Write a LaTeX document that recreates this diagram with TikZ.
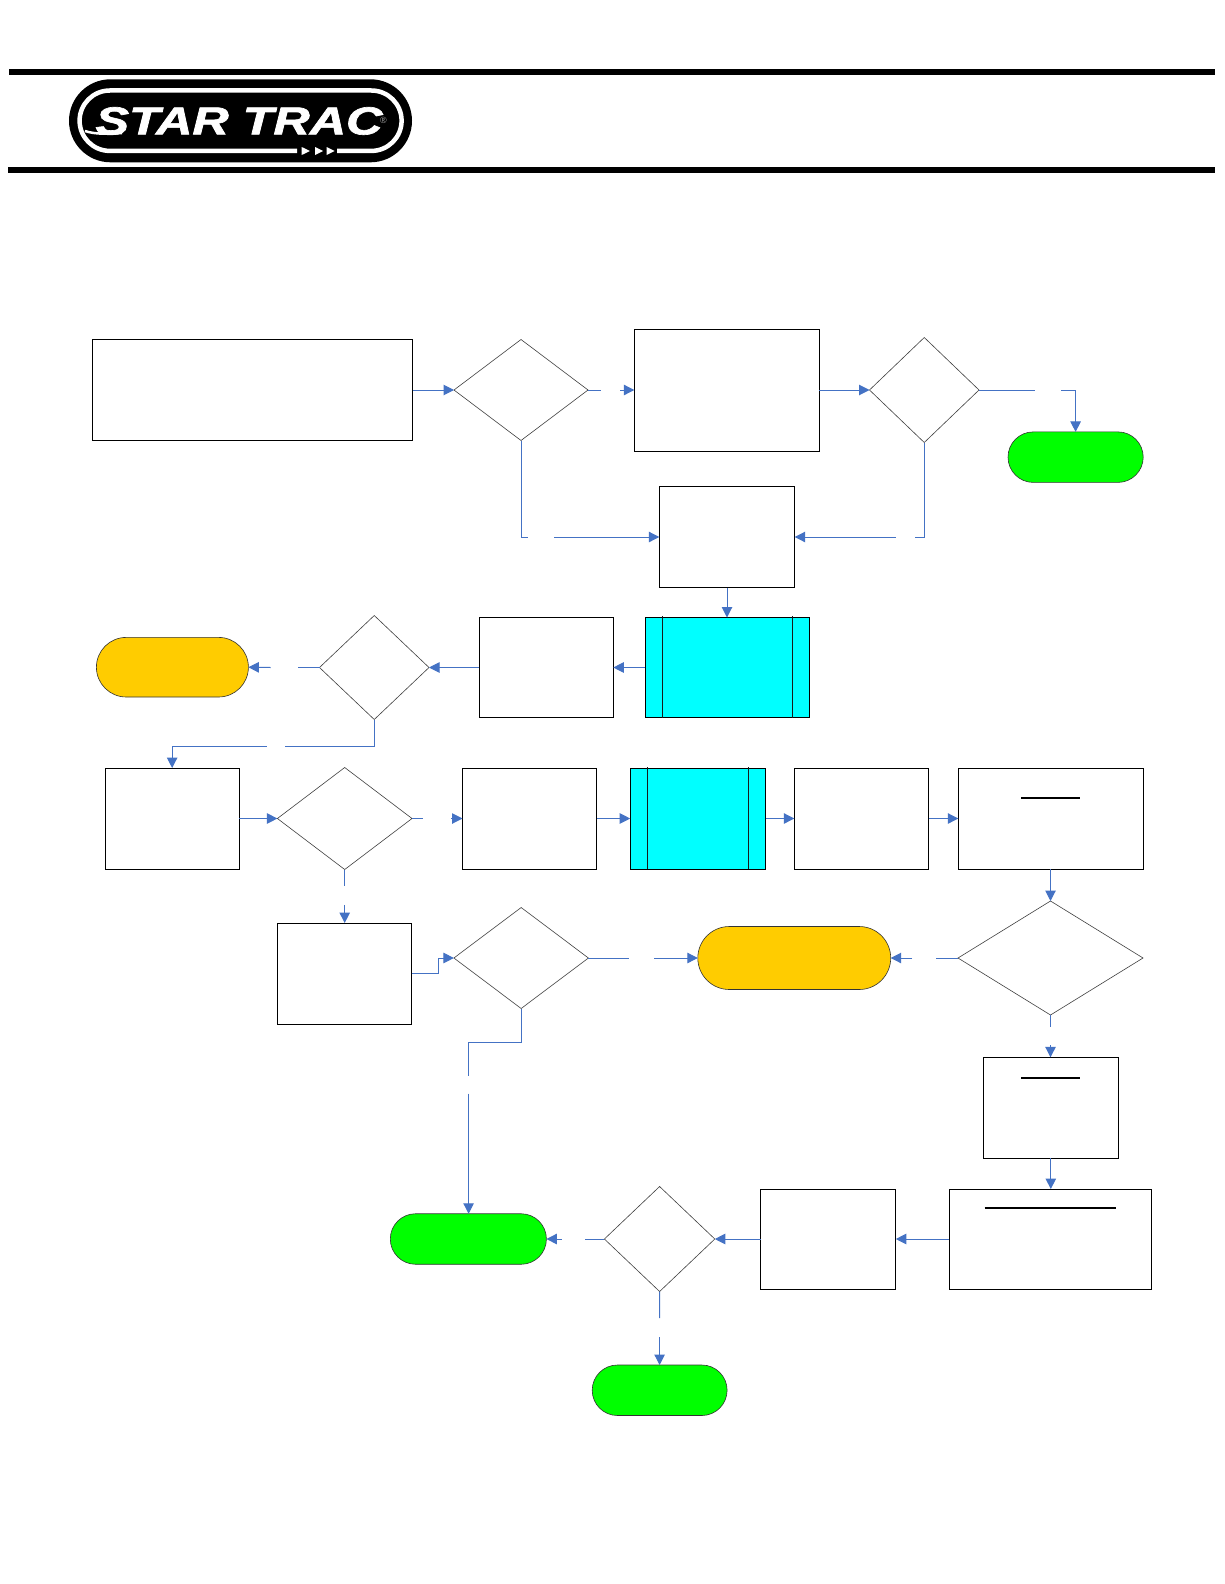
\documentclass[tikz,border=0pt]{standalone}
\usepackage{fontspec}
\setmainfont{Liberation Sans}
\newfontfamily\logofont[UprightFont=* Bold Italic,FakeBold=1.6]{Liberation Sans}
\usetikzlibrary{arrows.meta,shapes.geometric,shapes.misc}
\definecolor{connblue}{HTML}{4472C4}
\definecolor{termgreen}{HTML}{00FF00}
\definecolor{termorange}{HTML}{FFCC00}
\definecolor{subcyan}{HTML}{00FFFF}
\tikzset{
  x=1pt,y=-1pt,
  procbox/.style={rectangle,draw=black,line width=.9pt,fill=white,inner sep=0,outer sep=0},
  subbox/.style={procbox,fill=subcyan},
  decide/.style={diamond,draw=black!75,line width=.6pt,fill=white,inner sep=0,outer sep=0},
  termgo/.style={rounded rectangle,draw=black!80,line width=.6pt,fill=termgreen,inner sep=0,outer sep=0},
  termwarn/.style={termgo,fill=termorange},
  conn/.style={draw=connblue,line width=1pt},
  arr/.style={conn,-{Triangle[length=10.5pt,width=10.5pt]}},
  headrule/.style={line width=2pt,draw=black},
  innerrule/.style={line width=.8pt,draw=black!90},
}
% name, x1, y1, x2, y2, style
\newcommand{\shp}[6]{\node[#6,minimum width={(#4-#2)*1pt},minimum height={(#5-#3)*1pt}] (#1) at ({(#2+#4)/2},{(#3+#5)/2}) {};}
\begin{document}
\begin{tikzpicture}
\useasboundingbox (0,0) rectangle (1224,1584);
\fill[white] (0,0) rectangle (1224,1584);
% header bars
\fill[black] (9,69) rectangle (1215,75.5);
\fill[black] (8,167) rectangle (1215,173);
% logo
\node[rounded rectangle,fill=black,minimum width=343pt,minimum height=83pt,inner sep=0] (logoback) at (240.5,120.8) {};
\draw[white,line width=4.5pt] (297,150.9) -- (109.8,150.9) arc[start angle=90,end angle=270,radius=30.2] -- (371.4,90.5) arc[start angle=-90,end angle=90,radius=30.2] -- (337,150.9);
\fill[white] (301.7,147) -- (310,151) -- (301.7,155) -- cycle;
\fill[white] (315,147) -- (323,151) -- (315,155) -- cycle;
\fill[white] (326.7,147) -- (334.5,151) -- (326.7,155) -- cycle;
\node[text=white,font=\logofont\fontsize{39pt}{39pt}\selectfont,xscale=1.29,inner sep=0] (logotext) at (239,121) {STAR TRAC};
\node[text=white!65!black,font=\fontsize{9pt}{9pt}\selectfont,inner sep=0] (logoreg) at (383.5,120.5) {®};
\draw[white,line width=2.5pt] (85,131) .. controls (95,134.5) and (110,134) .. (122,133);
% boxes
\shp{b1}{92}{339.5}{412.5}{440.5}{procbox}
\shp{d1}{454}{339.5}{588}{440.5}{decide}
\shp{b2}{634.3}{329}{819.3}{451}{procbox}
\shp{d2}{869.5}{337.5}{979}{442.5}{decide}
\shp{t1}{1008}{431.9}{1143.2}{482.4}{termgo}
\shp{b3}{659.3}{486.5}{794.7}{587.5}{procbox}
\shp{c1}{645.3}{617.5}{809.3}{717.5}{subbox}
\shp{b4}{479.3}{617.5}{613.3}{717.5}{procbox}
\shp{d3}{319.5}{615.5}{429}{719.5}{decide}
\shp{t2}{96.4}{637.4}{248.4}{697}{termwarn}
\shp{b5}{105}{768}{239.3}{869}{procbox}
\shp{d4}{277.4}{767.5}{412}{869.5}{decide}
\shp{b6}{462.5}{768}{596.8}{869}{procbox}
\shp{c2}{630.2}{768}{765.5}{869}{subbox}
\shp{b7}{794.3}{768}{928.6}{869}{procbox}
\shp{b8}{958.3}{768}{1143.7}{869}{procbox}
\shp{d7}{958}{901}{1143}{1015}{decide}
\shp{t3}{697.8}{926.5}{890.7}{989.5}{termwarn}
\shp{b9}{277}{923}{411.6}{1024}{procbox}
\shp{d5}{453.9}{907.5}{588.4}{1008.5}{decide}
\shp{b10}{983.1}{1057.3}{1118.5}{1158.4}{procbox}
\shp{b11}{949.3}{1189}{1151.3}{1289}{procbox}
\shp{b12}{760.5}{1189}{895.8}{1289}{procbox}
\shp{d6}{604.4}{1186.5}{714.8}{1291.5}{decide}
\shp{t4}{390.3}{1213.75}{546.4}{1264.25}{termgo}
\shp{t5}{592.2}{1365}{727.1}{1415.5}{termgo}
% details inside boxes
\draw[innerrule] (662.3,616) -- (662.3,717.5) (792.7,616) -- (792.7,717.5);
\draw[innerrule] (647.3,767) -- (647.3,869) (748.3,767) -- (748.3,869);
\draw[headrule] (1021,797.8) -- (1080,797.8);
\draw[headrule] (1021,1077.6) -- (1080,1077.6);
\draw[headrule] (984.6,1208.2) -- (1116,1208.2);
% gap coordinates
\coordinate (g1a) at (601,390); \coordinate (g1b) at (620,390);
\coordinate (g2a) at (1035,390); \coordinate (g2b) at (1061.4,390);
\coordinate (g3a) at (528,537); \coordinate (g3b) at (554,537);
\coordinate (g4a) at (915,537); \coordinate (g4b) at (895.8,537);
\coordinate (g5a) at (297.9,667.5); \coordinate (g5b) at (270.6,667.5);
\coordinate (g6a) at (284.8,746.5); \coordinate (g6b) at (266.6,746.5);
\coordinate (g7a) at (423.2,818.5); \coordinate (g7b) at (451.4,818.5);
\coordinate (g8a) at (344.7,885.7); \coordinate (g8b) at (344.7,904.9);
\coordinate (g9a) at (629.2,958); \coordinate (g9b) at (654.4,958);
\coordinate (g10a) at (936.2,958); \coordinate (g10b) at (912,958);
\coordinate (g11a) at (1050.5,1026.5); \coordinate (g11b) at (1050.5,1045);
\coordinate (g12a) at (468.6,1075.5); \coordinate (g12b) at (468.6,1093.7);
\coordinate (g13a) at (584.7,1239); \coordinate (g13b) at (561.5,1239);
\coordinate (g14a) at (659.6,1318); \coordinate (g14b) at (659.6,1337);
% connectors
\draw[arr] (b1.east |- d1.west) -- (d1.west);
\draw[conn] (d1.east) -- (g1a);
\draw[arr] (g1b) -- (g1b -| b2.west);
\draw[arr] (b2.east |- d2.west) -- (d2.west);
\draw[conn] (d2.east) -- (g2a);
\draw[arr] (g2b) -| (t1.north);
\draw[conn] (d1.south) |- (g3a);
\draw[arr] (g3b) -- (g3b -| b3.west);
\draw[conn] (d2.south) |- (g4a);
\draw[arr] (g4b) -- (g4b -| b3.east);
\draw[arr] (b3.south) -- (b3.south |- c1.north);
\draw[arr] (c1.west) -- (b4.east);
\draw[arr] (b4.west) -- (d3.east);
\draw[conn] (d3.west) -- (g5a);
\draw[arr] (g5b) -- (t2.east);
\draw[conn] (d3.south) |- (g6a);
\draw[arr] (g6b) -| (b5.north);
\draw[arr] (b5.east) -- (d4.west);
\draw[conn] (d4.east) -- (g7a);
\draw[arr] (g7b) -- (b6.west);
\draw[arr] (b6.east) -- (c2.west);
\draw[arr] (c2.east) -- (b7.west);
\draw[arr] (b7.east) -- (b8.west);
\draw[arr] (b8.south -| d7.north) -- (d7.north);
\draw[conn] (d4.south) -- (g8a);
\draw[arr] (g8b) -- (b9.north -| g8b);
\draw[arr] (b9.east) -- ++(26.7,0) |- (d5.west);
\draw[conn] (d5.east) -- (g9a);
\draw[arr] (g9b) -- (t3.west);
\draw[conn] (d7.west) -- (g10a);
\draw[arr] (g10b) -- (t3.east);
\draw[conn] (d7.south) -- (g11a);
\draw[arr] (g11b) -- (b10.north -| g11b);
\draw[arr] (b10.south) -- (b11.north -| b10.south);
\draw[arr] (b11.west) -- (b12.east);
\draw[arr] (b12.west) -- (d6.east);
\draw[conn] (d6.west) -- (g13a);
\draw[arr] (g13b) -- (t4.east);
\draw[conn] (d6.south) -- (g14a);
\draw[arr] (g14b) -- (g14b |- t5.north);
\draw[conn] (d5.south) -- ++(0,33.5) -| (g12a);
\draw[arr] (g12b) -- (g12b |- t4.north);
\end{tikzpicture}
\end{document}
